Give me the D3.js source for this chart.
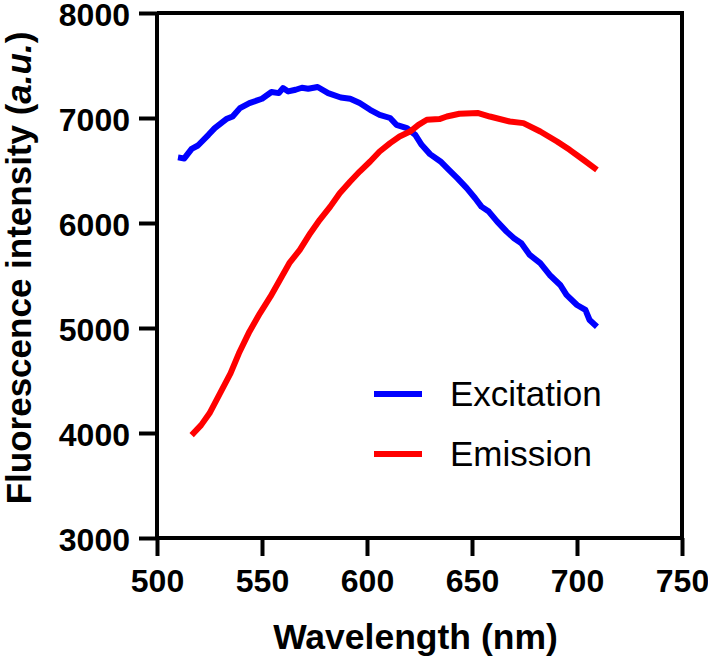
<!DOCTYPE html>
<html>
<head>
<meta charset="utf-8">
<script src="https://cdn.jsdelivr.net/npm/d3@7"></script>
<style>
  html, body { margin: 0; padding: 0; background: #fff; }
  svg { display: block; font-family: "Liberation Sans", Arial, Helvetica, sans-serif; }
</style>
</head>
<body>
<svg id="chart" width="708" height="657"></svg>
<script>
// ---- Data ----
const excitationWavelength = [510,513,516.5,519.5,524.5,527.5,533,536,539.5,544,550,554.5,558,560,562.5,566,569,572,576.5,581.5,587.5,592,596.5,601.5,606,611,614,619,623,626,630,635,639,643,647.5,651.5,654.5,658,662,666.5,670,673.5,677.5,682.5,687,692,695,700,704,706,709.5];
const excitationIntensity = [6625,6615,6706,6738,6840,6904,6990,7014,7094,7142,7183,7247,7237,7285,7253,7269,7288,7278,7295,7237,7195,7183,7142,7078,7030,7000,6935,6904,6840,6745,6656,6586,6506,6427,6332,6236,6156,6109,6013,5918,5855,5807,5696,5617,5505,5410,5315,5219,5172,5076,5012];

const emissionWavelength = [516.5,521,525,530,535,539,544,549,554,558.5,563,568,573,577.5,582.5,587,592,596.5,601.5,606,611,615.5,620.5,624.5,628.5,634.5,638,644,653,658.5,668,674.5,682.5,690.5,696.5,703,709.5];
const emissionIntensity = [3980,4075,4187,4377,4568,4759,4965,5140,5298,5458,5617,5744,5903,6030,6156,6284,6395,6490,6586,6681,6761,6824,6871,6935,6983,6990,7014,7040,7047,7014,6967,6951,6871,6776,6697,6602,6506];

const xTicks = [500,550,600,650,700,750];
const yTicks = [3000,4000,5000,6000,7000,8000];
const seriesNames = ["Excitation","Emission"];
const seriesColors = ["#0000ff","#ff0000"];

// ---- Layout ----
const svg = d3.select("#chart");
const plotLeft = 157, plotRight = 682, plotTop = 13, plotBottom = 538;

const x = d3.scaleLinear().domain([500, 750]).range([plotLeft, plotRight]);
const y = d3.scaleLinear().domain([3000, 8000]).range([plotBottom, plotTop]);

// Frame (top & right)
svg.append("path")
  .attr("d", `M${plotLeft},${plotTop}H${plotRight}V${plotBottom}`)
  .attr("fill", "none").attr("stroke", "#000").attr("stroke-width", 4);

// Axes
const xAxis = d3.axisBottom(x).tickValues(xTicks).tickSize(18).tickPadding(13).tickFormat(d3.format("d"));
const yAxis = d3.axisLeft(y).tickValues(yTicks).tickSize(18).tickPadding(9).tickFormat(d3.format("d"));

const gx = svg.append("g").attr("transform", `translate(0,${plotBottom})`).call(xAxis);
const gy = svg.append("g").attr("transform", `translate(${plotLeft},0)`).call(yAxis);

[gx, gy].forEach(g => {
  g.select(".domain").attr("stroke", "#000").attr("stroke-width", 4);
  g.selectAll(".tick line").attr("stroke", "#000").attr("stroke-width", 4);
  g.selectAll(".tick text")
    .attr("fill", "#000")
    .style("font-family", '"Liberation Sans", Arial, sans-serif')
    .style("font-size", "32px")
    .style("font-weight", "bold");
});
gy.selectAll(".tick text").attr("dy", "0.39em");
gx.select(".domain").attr("d", `M${plotLeft},0H${plotRight}`);
gy.select(".domain").attr("d", `M0,${plotBottom}V${plotTop}`);

// Lines
const line = d3.line().x(d => x(d[0])).y(d => y(d[1]));
const exData = excitationWavelength.map((w, i) => [w, excitationIntensity[i]]);
const emData = emissionWavelength.map((w, i) => [w, emissionIntensity[i]]);

[exData, emData].forEach((data, i) => {
  svg.append("path")
    .datum(data)
    .attr("d", line)
    .attr("fill", "none")
    .attr("stroke", seriesColors[i])
    .attr("stroke-width", 6)
    .attr("stroke-linejoin", "round")
    .attr("stroke-linecap", "butt");
});

// Legend
const legend = svg.append("g");
seriesNames.forEach((name, i) => {
  const ly = 394 + i * 60;
  legend.append("line")
    .attr("x1", 374).attr("x2", 422).attr("y1", ly).attr("y2", ly)
    .attr("stroke", seriesColors[i]).attr("stroke-width", 6);
  legend.append("text")
    .attr("x", 450).attr("y", ly + 12)
    .style("font-size", "35px")
    .attr("fill", "#000")
    .text(name);
});

// Axis titles
svg.append("text")
  .attr("x", (plotLeft + plotRight) / 2 - 4).attr("y", 649)
  .attr("text-anchor", "middle")
  .style("font-size", "35.5px").style("font-weight", "bold")
  .text("Wavelength (nm)");

const yt = svg.append("text")
  .attr("transform", `translate(31,268) rotate(-90)`)
  .attr("text-anchor", "middle")
  .style("font-size", "35px").style("font-weight", "bold");
yt.append("tspan").text("Fluorescence intensity (");
yt.append("tspan").style("font-style", "italic").text("a.u.");
yt.append("tspan").text(")");
</script>
</body>
</html>
